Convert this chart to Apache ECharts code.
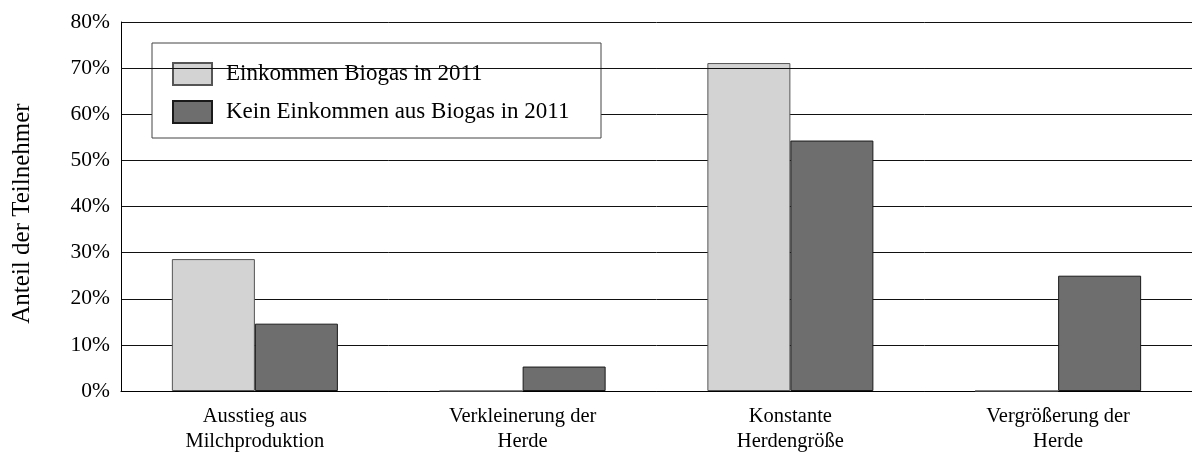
<!DOCTYPE html>
<html>
<head>
<meta charset="utf-8">
<script src="https://cdn.jsdelivr.net/npm/echarts@6/dist/echarts.min.js"></script>
<style>
html,body{margin:0;padding:0;background:#fff;}
#chart{width:1192px;height:454px;}
</style>
</head>
<body>
<div id="chart"></div>
<script>
const categories = ['Ausstieg aus\nMilchproduktion', 'Verkleinerung der\nHerde', 'Konstante\nHerdengröße', 'Vergrößerung der\nHerde'];
const seriesNames = ['Einkommen Biogas in 2011', 'Kein Einkommen aus Biogas in 2011'];
const biogasValues = [28.6, 0, 71.1, 0];
const noBiogasValues = [14.6, 5.3, 54.3, 25.0];
const yTicks = [0, 10, 20, 30, 40, 50, 60, 70, 80];

const FONT = "'Liberation Serif', 'Times New Roman', serif";
const chart = echarts.init(document.getElementById('chart'));
chart.setOption({
  animation: false,
  textStyle: { fontFamily: FONT, color: '#000' },
  grid: { left: 121, top: 22, right: -9, bottom: 62 },
  legend: {
    data: seriesNames,
    orient: 'vertical',
    left: 152, top: 43,
    padding: [19, 19, 14, 20],
    icon: 'rect',
    itemWidth: 39, itemHeight: 22, itemGap: 14,
    backgroundColor: '#fff',
    borderColor: '#444', borderWidth: 1,
    textStyle: { fontFamily: FONT, fontSize: 23, lineHeight: 22, color: '#000', padding: [0, 0, 0, 9], width: 356, overflow: 'none' }
  },
  xAxis: {
    type: 'category',
    data: categories,
    axisLine: { lineStyle: { color: '#000', width: 1 } },
    axisTick: { show: false },
    axisLabel: { fontFamily: FONT, fontSize: 20.5, color: '#000', lineHeight: 25, margin: 13 }
  },
  yAxis: {
    type: 'value',
    min: yTicks[0], max: yTicks[yTicks.length - 1], interval: 10,
    name: 'Anteil der Teilnehmer',
    nameLocation: 'middle',
    nameGap: 86,
    nameTextStyle: { fontFamily: FONT, fontSize: 25, color: '#000', padding: [0, 14, 0, 0] },
    axisLine: { show: true, lineStyle: { color: '#000', width: 1 } },
    axisTick: { show: false },
    splitLine: { lineStyle: { color: '#111', width: 1 } },
    axisLabel: { fontFamily: FONT, fontSize: 21.5, color: '#000', margin: 11, formatter: v => v + '%' }
  },
  series: [
    {
      name: seriesNames[0], type: 'bar', data: biogasValues,
      barGap: '0%', barCategoryGap: '38%',
      itemStyle: { color: '#d3d3d3', borderColor: '#555', borderWidth: 1 }
    },
    {
      name: seriesNames[1], type: 'bar', data: noBiogasValues,
      barGap: '0%', barCategoryGap: '38%',
      itemStyle: { color: '#6e6e6e', borderColor: '#1a1a1a', borderWidth: 1 }
    },
    {
      name: 'overlay', type: 'line', data: [], z: 10, silent: true,
      markLine: {
        silent: true, symbol: 'none', label: { show: false },
        lineStyle: { color: '#111', width: 1, type: 'solid' },
        data: [{ yAxis: 70 }]
      }
    }
  ]
});
</script>
</body>
</html>
